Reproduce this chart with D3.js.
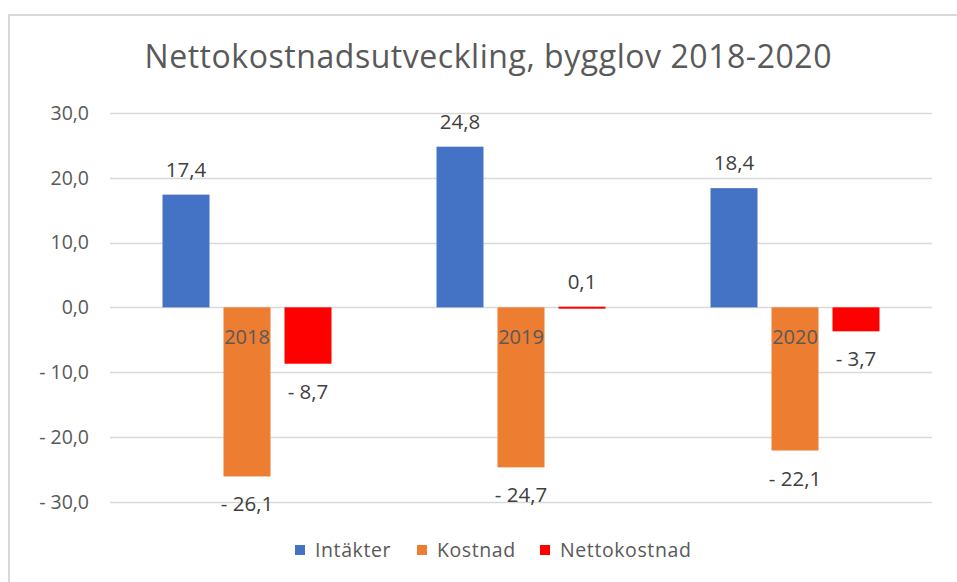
<!DOCTYPE html>
<html>
<head>
<meta charset="utf-8">
<script src="https://cdn.jsdelivr.net/npm/d3@7"></script>
<style>
  body { margin: 0; background: #fff; }
  svg { display: block; font-family: 'Open Sans', 'Liberation Sans', sans-serif; }
</style>
</head>
<body>
<div id="chart"></div>
<script>
// data
var years = ['2018', '2019', '2020'];
var series = ['Intäkter', 'Kostnad', 'Nettokostnad'];
var intakter = [17.4, 24.8, 18.4];
var kostnad = [-26.1, -24.7, -22.1];
var netto = [-8.7, 0.1, -3.7];
var yTicks = [30, 20, 10, 0, -10, -20, -30];
var colors = ['#4472c4', '#ed7d31', '#ff0000'];

var width = 957, height = 582;
var plot = { left: 110, right: 932, top: 113, bottom: 501.7 };

var svg = d3.select('#chart')
  .append('svg')
    .attr('width', width)
    .attr('height', height);

// chart frame (cropped on right and bottom)
svg.append('path')
  .attr('d', 'M9,' + height + 'V15H' + width)
  .attr('fill', 'none')
  .attr('stroke', '#d9d9d9')
  .attr('stroke-width', 2);

svg.append('text')
  .attr('x', 488)
  .attr('y', 68)
  .attr('text-anchor', 'middle')
  .attr('fill', '#595959')
  .attr('font-size', 32)
  .attr('textLength', 687)
  .attr('lengthAdjust', 'spacing')
  .text('Nettokostnadsutveckling, bygglov 2018-2020');

var y = d3.scaleLinear()
    .domain([-30, 30])
    .range([plot.bottom, plot.top]);

var x0 = d3.scaleBand()
    .domain(years)
    .range([plot.left, plot.right]);

var barW = 47, barGap = 14;
var x1 = d3.scaleBand()
    .domain(series)
    .range([-(barW * 1.5 + barGap), barW * 1.5 + barGap])
    .paddingInner(barGap / (barW + barGap));

function fmt(v) {
  var s = d3.format('.1f')(Math.abs(v)).replace('.', ',');
  return v < 0 ? '- ' + s : s;
}

// gridlines
svg.append('g')
  .selectAll('line')
  .data(yTicks)
  .enter().append('line')
    .attr('x1', plot.left)
    .attr('x2', plot.right)
    .attr('y1', function(d) { return Math.round(y(d)) + 0.5; })
    .attr('y2', function(d) { return Math.round(y(d)) + 0.5; })
    .attr('stroke', '#d9d9d9')
    .attr('stroke-width', 1.3);

// y tick labels
svg.append('g')
  .selectAll('text')
  .data(yTicks)
  .enter().append('text')
    .attr('x', 89)
    .attr('y', function(d) { return y(d); })
    .attr('dy', '0.35em')
    .attr('text-anchor', 'end')
    .attr('fill', '#595959')
    .attr('font-size', 19.5)
    .text(fmt);

var rows = [];
years.forEach(function(yr, i) {
  rows.push({ year: yr, key: series[0], value: intakter[i], color: colors[0] });
  rows.push({ year: yr, key: series[1], value: kostnad[i], color: colors[1] });
  rows.push({ year: yr, key: series[2], value: netto[i], color: colors[2] });
});

function barX(d) { return x0(d.year) + x0.bandwidth() / 2 + x1(d.key); }

svg.append('g')
  .selectAll('rect')
  .data(rows)
  .enter().append('rect')
    .attr('x', barX)
    .attr('y', function(d) { return y(Math.max(0, d.value)); })
    .attr('width', x1.bandwidth())
    .attr('height', function(d) { return Math.max(2, Math.abs(y(d.value) - y(0))); })
    .attr('fill', function(d) { return d.color; });

// category labels sit just under the zero line
svg.append('g')
  .selectAll('text')
  .data(years)
  .enter().append('text')
    .attr('x', function(d) { return x0(d) + x0.bandwidth() / 2; })
    .attr('y', y(0) + 37)
    .attr('text-anchor', 'middle')
    .attr('fill', '#595959')
    .attr('font-size', 20)
    .text(function(d) { return d; });

// data labels
svg.append('g')
  .selectAll('text')
  .data(rows)
  .enter().append('text')
    .attr('x', function(d) { return barX(d) + x1.bandwidth() / 2; })
    .attr('y', function(d) {
      return d.value >= 0 ? y(d.value) - 18 : y(d.value) + 35;
    })
    .attr('text-anchor', 'middle')
    .attr('fill', '#404040')
    .attr('font-size', 20.5)
    .text(function(d) { return fmt(d.value); });

// legend
var legendX = [295, 417, 540];
var legend = svg.append('g')
  .selectAll('g')
  .data(series)
  .enter().append('g')
    .attr('transform', function(d, i) { return 'translate(' + legendX[i] + ',550)'; });

legend.append('rect')
    .attr('y', -5)
    .attr('width', 10)
    .attr('height', 10)
    .attr('fill', function(d, i) { return colors[i]; });

legend.append('text')
    .attr('x', 20)
    .attr('dy', '0.35em')
    .attr('fill', '#595959')
    .attr('font-size', 19.5)
    .attr('letter-spacing', 0.6)
    .text(function(d) { return d; });
</script>
</body>
</html>
